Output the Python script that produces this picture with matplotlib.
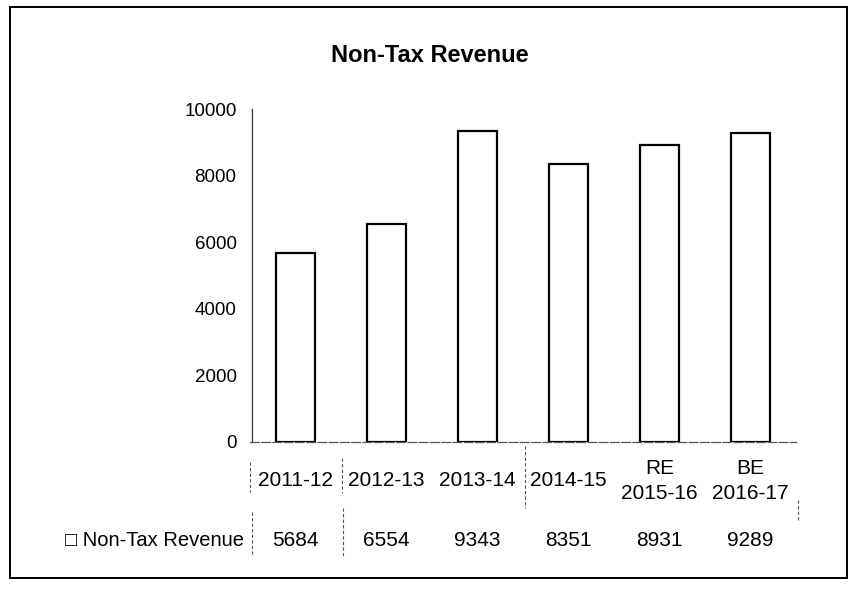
import matplotlib.pyplot as plt
from matplotlib.patches import Rectangle
from matplotlib.lines import Line2D

plt.rcParams['font.family'] = ['Liberation Sans', 'DejaVu Sans']

# data
years = ["2011-12", "2012-13", "2013-14", "2014-15", "RE\n2015-16", "BE\n2016-17"]
revenue = [5684, 6554, 9343, 8351, 8931, 9289]
series_name = "Non-Tax Revenue"
title = "Non-Tax Revenue"
yticks = [0, 2000, 4000, 6000, 8000, 10000]

W, H = 853, 594
fig = plt.figure(figsize=(W / 100, H / 100), dpi=100)

def fx(px):
    return px / W

def fy(py):
    return 1 - py / H

# outer chart border
fig.patches.append(Rectangle((fx(10), fy(578)), fx(847) - fx(10), fy(7) - fy(578),
                             transform=fig.transFigure, fill=False,
                             edgecolor="black", linewidth=1.4))

ax_left, ax_right, ax_top, ax_bot = 250, 796, 109, 442
ax = fig.add_axes([fx(ax_left), fy(ax_bot), fx(ax_right) - fx(ax_left), fy(ax_top) - fy(ax_bot)])

x = list(range(len(years)))
ax.bar(x, revenue, width=0.42, color="white", edgecolor="black", linewidth=1.6)

for s in ["top", "right"]:
    ax.spines[s].set_visible(False)
ax.spines["left"].set_position(("data", -0.48))
ax.spines["left"].set_color("#333333")
ax.spines["left"].set_linewidth(0.9)
ax.spines["bottom"].set_color("#555555")
ax.spines["bottom"].set_linewidth(0.9)
ax.spines["bottom"].set_linestyle((0, (7, 2)))

ax.set_xlim(-0.5, len(years) - 0.5)
ax.set_ylim(0, 10000)
ax.set_yticks(yticks)
ax.set_yticklabels([str(v) for v in yticks])
ax.tick_params(axis="y", length=0, pad=11, labelsize=13.5)
ax.set_xticks([])

fig.text(fx(430), fy(56), title, ha="center", va="center",
         fontsize=17, fontweight="bold")

# data table under the chart
tr = ax.get_xaxis_transform()
row1_y = (ax_bot - 481) / (ax_bot - ax_top)
row2_y = (ax_bot - 540) / (ax_bot - ax_top)
for i, (lab, val) in enumerate(zip(years, revenue)):
    ax.text(i, row1_y, lab, transform=tr, ha="center", va="center",
            fontsize=15, linespacing=1.35, clip_on=False)
    ax.text(i, row2_y, str(val), transform=tr, ha="center", va="center",
            fontsize=15, clip_on=False)

fig.text(fx(244), fy(540), "\u25a1 " + series_name, ha="right", va="center",
         fontsize=14.5)

# faint table dividers (mostly lost in the scan)
for xb, y0, y1 in [(250, 462, 492), (342, 458, 493), (252, 512, 556), (343, 508, 556),
                   (525, 446, 508), (798, 500, 520)]:
    fig.add_artist(Line2D([fx(xb), fx(xb)], [fy(y0), fy(y1)],
                          transform=fig.transFigure, color="#555555",
                          linewidth=0.8, linestyle=(0, (3, 2))))

fig.savefig("out.png", dpi=100)
